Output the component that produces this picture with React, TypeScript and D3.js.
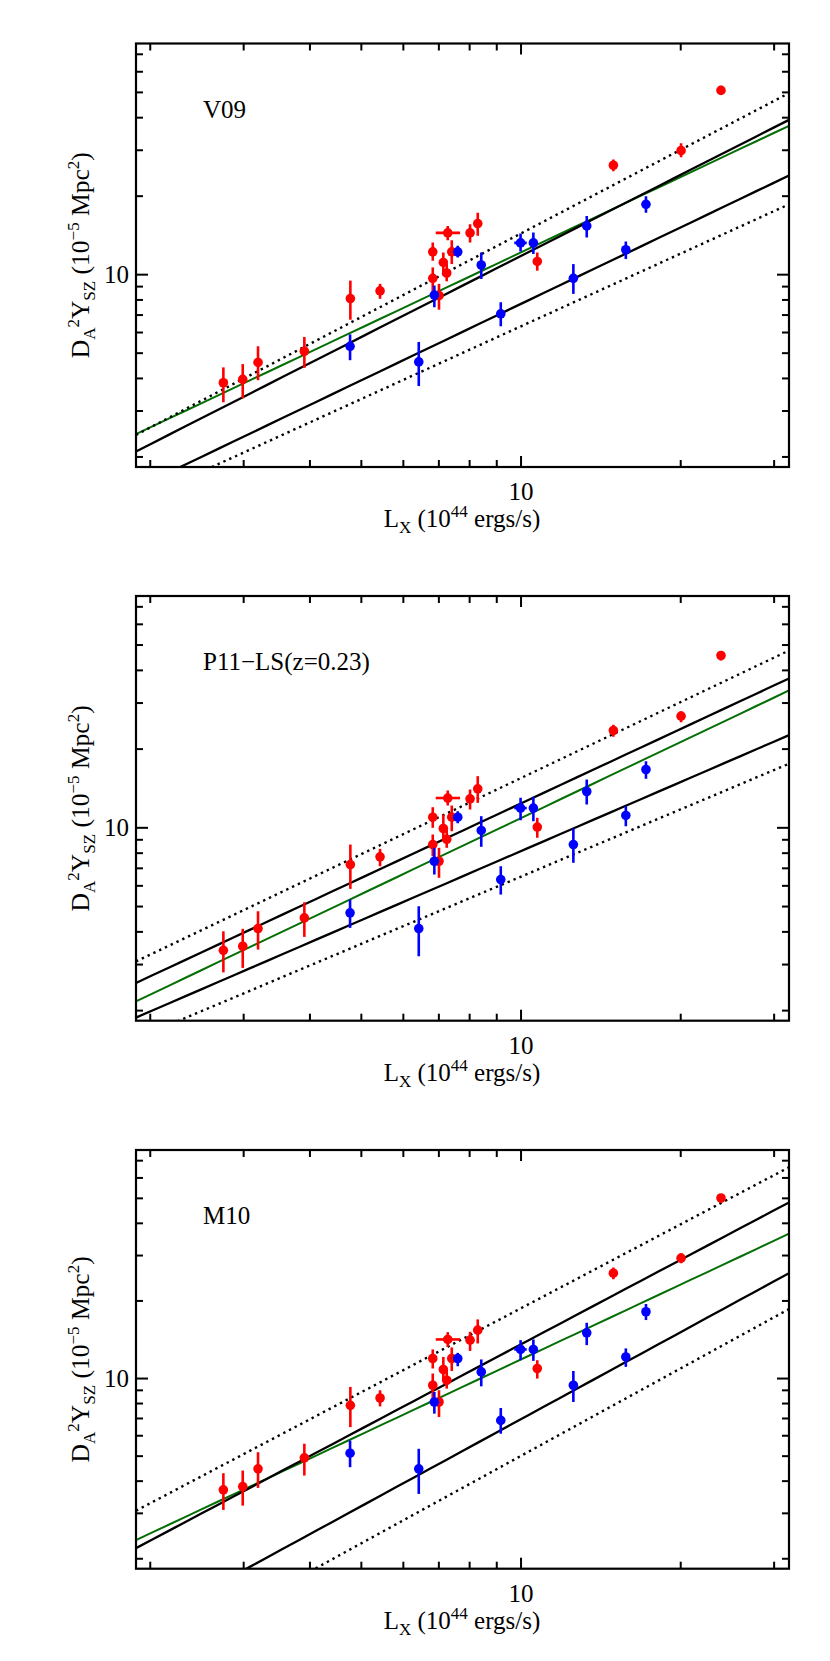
import React from 'react';
import * as d3 from 'd3';

// ---------- data ----------
const xDomain = [1.88, 32];
const yDomain = [1.83, 77];
const panelLabels = ['V09', 'P11\u2212LS(z=0.23)', 'M10'];
const xMinorTicks = [2, 3, 4, 5, 6, 7, 8, 9, 20, 30];
const xMajorTicks = [10];
const yMinorTicks = [2, 3, 4, 5, 6, 7, 8, 9, 20, 30, 40, 50, 60, 70];
const yMajorTicks = [10];

// L_X of the two samples (10^44 erg/s)
const redLx = [2.747, 2.988, 3.193, 3.904, 4.767, 5.423, 6.817, 6.817, 7.004, 7.137, 7.243, 7.275, 7.403, 8.015, 8.287, 10.73, 14.93, 20.03, 23.82];
const redLxErrMinus = [0, 0, 0, 0, 0, 0, 0, 0, 0, 0, 0, 0.37, 0, 0, 0, 0, 0, 0, 0];
const redLxErrPlus = [0, 0, 0, 0, 0, 0, 0, 0, 0, 0, 0, 0.40, 0, 0, 0, 0, 0, 0, 0];
const blueLx = [4.761, 6.415, 6.864, 7.598, 8.414, 9.158, 9.98, 10.55, 12.55, 13.30, 15.76, 17.20];
const blueLxErrMinus = [0, 0, 0, 0, 0, 0, 0.27, 0, 0, 0, 0, 0];
const blueLxErrPlus = [0, 0, 0, 0, 0, 0, 0.27, 0, 0, 0, 0, 0];

// V09
const v09RedY = [3.85, 3.967, 4.606, 5.086, 8.10, 8.666, 9.68, 12.24, 8.316, 11.14, 10.15, 14.46, 12.24, 14.46, 15.70, 11.24, 26.28, 29.9, 50.9];
const v09RedLo = [3.24, 3.357, 3.94, 4.391, 6.72, 8.08, 8.56, 11.31, 7.34, 10.2, 9.43, 13.56, 10.98, 13.28, 14.09, 10.36, 24.93, 28.2, 49.0];
const v09RedHi = [4.41, 4.54, 5.314, 5.768, 9.49, 9.22, 10.66, 13.28, 9.22, 12.17, 10.98, 15.38, 13.56, 15.61, 17.29, 12.17, 27.63, 31.9, 53.0];
const v09BlueY = [5.314, 4.63, 8.35, 12.24, 10.89, 7.08, 13.24, 13.24, 9.68, 15.38, 12.46, 18.61];
const v09BlueLo = [4.70, 3.74, 7.50, 11.64, 9.63, 6.34, 12.27, 12.0, 8.44, 13.88, 11.48, 17.29];
const v09BlueHi = [5.904, 5.52, 9.08, 12.9, 12.17, 7.84, 14.37, 14.5, 10.98, 16.79, 13.4, 20.0];

// P11-LS
const p11RedY = [3.402, 3.525, 4.12, 4.525, 7.237, 7.745, 8.63, 10.98, 7.45, 9.94, 9.04, 13.0, 10.98, 12.91, 14.1, 10.07, 23.56, 26.73, 45.6];
const p11RedLo = [2.80, 2.913, 3.423, 3.828, 5.843, 7.13, 7.79, 10.0, 6.44, 8.89, 8.385, 12.17, 9.71, 11.75, 12.46, 9.16, 22.3, 25.35, 43.6];
const p11RedHi = [4.02, 4.109, 4.797, 5.193, 8.63, 8.31, 9.43, 11.99, 8.385, 11.24, 9.85, 13.89, 12.17, 14.01, 15.76, 10.92, 24.8, 27.93, 47.25];
const p11BlueY = [4.73, 4.12, 7.45, 10.98, 9.77, 6.34, 11.9, 11.9, 8.63, 13.77, 11.15, 16.71];
const p11BlueLo = [4.143, 3.227, 6.63, 10.41, 8.46, 5.556, 10.69, 10.6, 7.35, 12.28, 10.14, 15.4];
const p11BlueHi = [5.314, 5.013, 8.385, 11.57, 11.08, 7.13, 13.03, 13.14, 9.94, 15.3, 12.09, 17.98];

// M10
const m10RedY = [3.70, 3.81, 4.465, 4.927, 7.87, 8.405, 9.42, 11.96, 8.11, 10.84, 9.85, 14.18, 11.96, 14.09, 15.41, 10.94, 25.62, 29.31, 50.16];
const m10RedLo = [3.093, 3.214, 3.766, 4.205, 6.48, 7.80, 8.36, 10.94, 7.09, 9.85, 9.14, 13.27, 10.7, 12.8, 13.68, 10.0, 24.28, 28.03, 48.23];
const m10RedHi = [4.293, 4.398, 5.18, 5.587, 9.28, 9.006, 10.46, 12.97, 9.006, 12.13, 10.84, 15.14, 13.2, 15.18, 16.96, 11.78, 26.94, 30.65, 51.66];
const m10BlueY = [5.134, 4.465, 8.11, 11.96, 10.61, 6.88, 12.97, 12.97, 9.42, 15.04, 12.13, 18.16];
const m10BlueLo = [4.53, 3.568, 7.31, 11.16, 9.33, 6.11, 11.78, 11.71, 8.11, 13.48, 11.1, 16.86];
const m10BlueHi = [5.75, 5.34, 8.87, 12.58, 11.86, 7.69, 14.09, 14.18, 10.7, 16.46, 13.09, 19.46];

// scaling relations Y = norm * (L/10)^slope : [fit, upper, lower, upperScatter, lowerScatter]
const lineRoles = ['fit', 'upper', 'lower', 'upperScatter', 'lowerScatter'];
const v09Norm = [12.18, 11.8, 7.73, 14.4, 6.34];
const v09Slope = [0.9605, 1.033, 0.974, 1.065, 0.926];
const p11Norm = [10.9, 12.4, 8.15, 15.5, 6.51];
const p11Slope = [0.9656, 0.9458, 0.8773, 0.9656, 0.8543];
const m10Norm = [11.86, 13.58, 6.96, 18.74, 5.015];
const m10Slope = [0.9652, 1.0894, 1.1209, 1.0821, 1.127];

const panelsData = [
  { redY: v09RedY, redLo: v09RedLo, redHi: v09RedHi, blueY: v09BlueY, blueLo: v09BlueLo, blueHi: v09BlueHi, norm: v09Norm, slope: v09Slope },
  { redY: p11RedY, redLo: p11RedLo, redHi: p11RedHi, blueY: p11BlueY, blueLo: p11BlueLo, blueHi: p11BlueHi, norm: p11Norm, slope: p11Slope },
  { redY: m10RedY, redLo: m10RedLo, redHi: m10RedHi, blueY: m10BlueY, blueLo: m10BlueLo, blueHi: m10BlueHi, norm: m10Norm, slope: m10Slope },
];

// ---------- layout ----------
const W = 830, H = 1661;
const LEFT = 136, RIGHT = 789;
const frames = [
  { top: 43.5, bottom: 467 },
  { top: 596, bottom: 1020.7 },
  { top: 1150, bottom: 1568.7 },
];
const FONT = "'Liberation Serif', 'Times New Roman', Times, serif";
const RED = '#ff0000', BLUE = '#0000ff', GREEN = '#056f05';

function Panel({ idx }: { idx: number }) {
  const { top, bottom } = frames[idx];
  const d = panelsData[idx];
  const x = d3.scaleLog().domain(xDomain).range([LEFT, RIGHT]);
  const y = d3.scaleLog().domain(yDomain).range([bottom, top]);
  const clipId = `clip${idx}`;
  const xs = d3.range(0, 41).map((i) => xDomain[0] * Math.pow(xDomain[1] / xDomain[0], i / 40));

  const relPath = (k: number) =>
    d3.line<number>()
      .x((v) => x(v))
      .y((v) => y(d.norm[k] * Math.pow(v / 10, d.slope[k])))(xs) as string;

  const xMajorLen = 11, yMajorLen = 12, minorLen = 7;
  const sub = 17;

  const renderPoints = (lx: number[], xm: number[], xp: number[], ys: number[], lo: number[], hi: number[], color: string, key: string) => (
    <g key={key}>
      {lx.map((v, i) => (
        <g key={i}>
          <line x1={x(v)} x2={x(v)} y1={y(lo[i])} y2={y(hi[i])} stroke={color} strokeWidth={2.6} />
          {xm[i] > 0 || xp[i] > 0 ? (
            <line x1={x(v - xm[i])} x2={x(v + xp[i])} y1={y(ys[i])} y2={y(ys[i])} stroke={color} strokeWidth={2.6} />
          ) : null}
          <circle cx={x(v)} cy={y(ys[i])} r={4.8} fill={color} />
        </g>
      ))}
    </g>
  );

  return (
    <g>
      <defs>
        <clipPath id={clipId}>
          <rect x={LEFT} y={top} width={RIGHT - LEFT} height={bottom - top} />
        </clipPath>
      </defs>
      <g clipPath={`url(#${clipId})`}>
        {lineRoles.map((role, k) => {
          const dotted = role === 'upperScatter' || role === 'lowerScatter';
          const isFit = role === 'fit';
          return (
            <path
              key={role}
              d={relPath(k)}
              fill="none"
              stroke={isFit ? GREEN : '#000'}
              strokeWidth={dotted ? 2.4 : isFit ? 2 : 2.3}
              strokeDasharray={dotted ? '2.4 4' : undefined}
            />
          );
        })}
        {renderPoints(redLx, redLxErrMinus, redLxErrPlus, d.redY, d.redLo, d.redHi, RED, 'red')}
        {renderPoints(blueLx, blueLxErrMinus, blueLxErrPlus, d.blueY, d.blueLo, d.blueHi, BLUE, 'blue')}
      </g>
      {/* frame */}
      <rect x={LEFT} y={top} width={RIGHT - LEFT} height={bottom - top} fill="none" stroke="#000" strokeWidth={2.2} />
      {/* x ticks */}
      {xMinorTicks.concat(xMajorTicks).map((t) => {
        const len = xMajorTicks.includes(t) ? xMajorLen : minorLen;
        return (
          <g key={'xt' + t}>
            <line x1={x(t)} x2={x(t)} y1={bottom} y2={bottom - len} stroke="#000" strokeWidth={2} />
            <line x1={x(t)} x2={x(t)} y1={top} y2={top + len} stroke="#000" strokeWidth={2} />
          </g>
        );
      })}
      {/* y ticks */}
      {yMinorTicks.concat(yMajorTicks).map((t) => {
        const len = yMajorTicks.includes(t) ? yMajorLen : minorLen;
        return (
          <g key={'yt' + t}>
            <line x1={LEFT} x2={LEFT + len} y1={y(t)} y2={y(t)} stroke="#000" strokeWidth={2} />
            <line x1={RIGHT} x2={RIGHT - len} y1={y(t)} y2={y(t)} stroke="#000" strokeWidth={2} />
          </g>
        );
      })}
      {/* tick labels */}
      {xMajorTicks.map((t) => (
        <text key={'xl' + t} x={x(t)} y={bottom + 33} fontSize={25} fontFamily={FONT} textAnchor="middle">{t}</text>
      ))}
      {yMajorTicks.map((t) => (
        <text key={'yl' + t} x={LEFT - 7} y={y(t) + 8.5} fontSize={25} fontFamily={FONT} textAnchor="end">{t}</text>
      ))}
      {/* x title */}
      <text x={462} y={bottom + 60} fontSize={25} fontFamily={FONT} textAnchor="middle">
        L<tspan fontSize={sub} dy={6}>X</tspan>
        <tspan dy={-6}> (10</tspan>
        <tspan fontSize={sub} dy={-10}>44</tspan>
        <tspan dy={10}> ergs/s)</tspan>
      </text>
      {/* y title */}
      <text
        transform={`translate(89, ${(top + bottom) / 2}) rotate(-90)`}
        fontSize={25.5}
        fontFamily={FONT}
        textAnchor="middle"
      >
        D<tspan fontSize={sub} dy={6}>A</tspan>
        <tspan fontSize={sub} dy={-16}>2</tspan>
        <tspan dy={10}>Y</tspan>
        <tspan fontSize={sub} dy={6}>SZ</tspan>
        <tspan dy={-6}> (10</tspan>
        <tspan fontSize={sub} dy={-10}>{'\u22125'}</tspan>
        <tspan dy={10}> Mpc</tspan>
        <tspan fontSize={sub} dy={-10}>2</tspan>
        <tspan dy={10}>)</tspan>
      </text>
      {/* panel label */}
      <text x={203} y={top + 74} fontSize={25} fontFamily={FONT}>{panelLabels[idx]}</text>
    </g>
  );
}

export default function App() {
  return (
    <svg
      width={W}
      height={H}
      viewBox={`0 0 ${W} ${H}`}
      style={{ position: 'absolute', left: 0, top: 0, background: '#fff' }}
    >
      <rect x={0} y={0} width={W} height={H} fill="#fff" />
      {[0, 1, 2].map((i) => (
        <Panel key={i} idx={i} />
      ))}
    </svg>
  );
}
